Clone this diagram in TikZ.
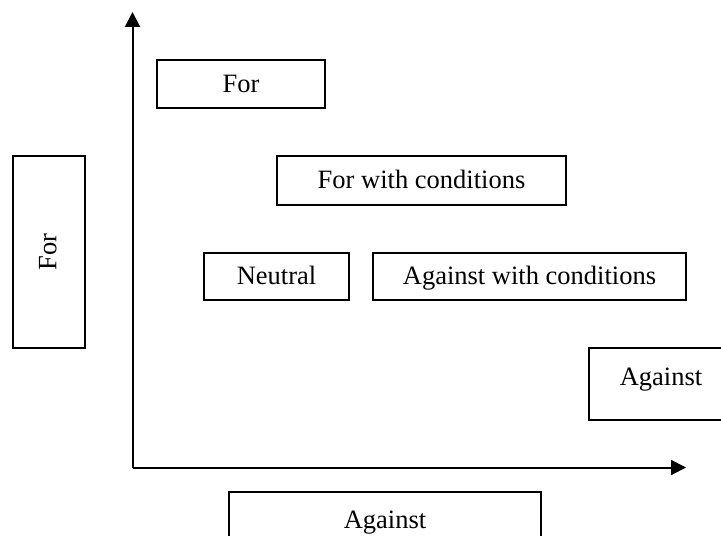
\documentclass[tikz,border=0pt]{standalone}
\usepackage{fontspec}
\setmainfont{Liberation Serif}
\usetikzlibrary{arrows.meta,calc}
\begin{document}
\begin{tikzpicture}[x=0.5pt,y=-0.5pt,
  font=\fontsize{13.25pt}{15pt}\selectfont,
  box/.style 2 args={draw,line width=0.8pt,inner sep=0pt,outer sep=0pt,
    text height=0.8em,text depth=0pt,
    minimum width=#1*0.5pt,minimum height=#2*0.5pt},
  axis/.style={line width=1pt,-{Triangle[length=7.5pt,width=7.5pt]}},
  lbl/.style={inner sep=0pt,anchor=base}]
  \clip (0,0) rectangle (721,535);
  \fill[white] (0,0) rectangle (721,535);

  % axes
  \coordinate (origin) at (132.5,467.5);
  \coordinate (ytip) at (132.5,12);
  \coordinate (xtip) at (686,467.5);
  \draw[axis] (origin) -- (ytip);
  \draw[axis] (origin) -- (xtip);

  % positions on the chart
  \node[box={168}{48}] (forTop) at (241,84) {For};
  \node[box={289}{49}] (forCond) at (421.5,180.5) {For with conditions};
  \node[box={145}{47}] (neutral) at (276.5,276.5) {Neutral};
  \node[box={313}{47}] (againstCond) at (529.5,276.5) {Against with conditions};
  \node[box={144}{72}] (againstRight) at (661,384) {};
  \node[lbl] (againstRightText) at (661,385) {Against};

  % axis captions
  \node[box={72}{192}] (forLeft) at (49,252) {};
  \node[rotate=90,inner sep=0pt,text height=0.74em,text depth=0pt]
    (forLeftText) at (forLeft.center) {For};
  \node[box={312}{80}] (againstBottom) at (385,532) {};
  \node[lbl] (againstBottomText) at (385,528) {Against};
\end{tikzpicture}
\end{document}
